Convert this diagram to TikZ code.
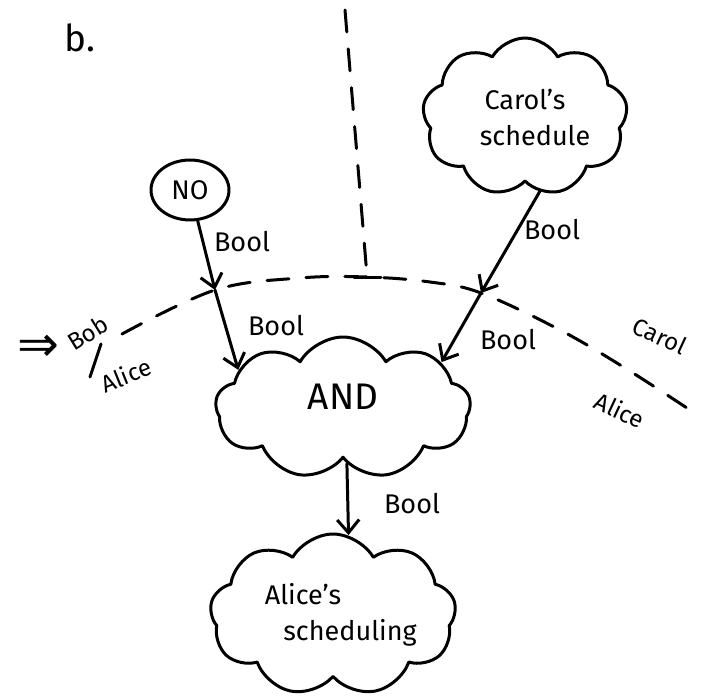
\documentclass[tikz,border=0pt]{standalone}
\usepackage{fontspec}
\setmainfont{Fira Sans}
\newfontfamily\symbolfont{DejaVu Sans}
\usetikzlibrary{shapes.symbols, shapes.geometric, arrows.meta}

\begin{document}
\begin{tikzpicture}[x=1pt, y=-1pt, line cap=round, line join=round,
  ink/.style={draw=black, line width=3pt},
  puff/.style={ink, cloud, cloud puffs=9, cloud puff arc=120,
    cloud ignores aspect, inner sep=0pt, align=center},
  hand/.style={font=\fontsize{27}{36}\selectfont},
  small/.style={font=\fontsize{24}{26}\selectfont, inner sep=1pt},
  big/.style={font=\fontsize{37}{40}\selectfont},
  flow/.style={ink, -{Straight Barb[length=13pt, width=22pt]}},
  fence/.style={ink, dash pattern=on 22pt off 17pt}
]
\useasboundingbox (0,0) rectangle (702,698);

% panel tag
\node[big] (tag) at (80,38) {b.};

% sources, gate and sink
\node[ink, ellipse, minimum width=78pt, minimum height=60pt, inner sep=0pt, hand] (no) at (190,190) {NO};
\node[puff, minimum width=205pt, minimum height=158pt, hand] (carol) at (525,117)
  {Carol's\\\hspace*{20pt}schedule};
\node[puff, minimum width=255pt, minimum height=142pt, big] (and) at (343,408)
  {\raisebox{22pt}{AND}};
\node[puff, minimum width=246pt, minimum height=162pt, hand] (alice) at (333,615)
  {Alice's\hspace*{60pt}\\\hspace*{34pt}scheduling};

% domain boundaries
\draw[fence] (345,10) -- (367,276);
\draw[ink] (354,277) -- (381,277);
\draw[fence] plot[smooth, tension=0.6] coordinates
  {(122,334) (215,290) (300,278) (367,277) (430,282) (481,293) (560,330) (625,368) (690,410)};

% crossings of the boundary
\coordinate (x1) at (215,290);
\coordinate (x2) at (481,293);

% left boundary marker
\node[font=\symbolfont\fontsize{50}{50}\selectfont, inner sep=0pt] (imp) at (38,348) {⇒};
\node[small, rotate=32] (bob) at (88,333) {Bob};
\coordinate (cutA) at (101,344);
\coordinate (cutB) at (90,377);
\draw[ink] (cutA) -- (cutB);
\node[small, rotate=22] (aliceL) at (126,375) {Alice};

% right boundary marker
\node[small, rotate=-25] (carolR) at (660,336) {Carol};
\node[small, rotate=-25] (aliceR) at (620,410) {Alice};

% data flow
\draw[flow] (no.-76) -- (x1);
\draw[flow] (x1) -- (and.160);
\draw[flow] (carol.-79) -- (x2);
\draw[flow] (x2) -- (and.25);
\draw[flow] (and.-86) -- (alice.79);

% edge labels
\node[hand] (l1) at (242,242) {Bool};
\node[hand] (l2) at (276,326) {Bool};
\node[hand] (l3) at (552,230) {Bool};
\node[hand] (l4) at (508,340) {Bool};
\node[hand] (l5) at (412,504) {Bool};
\end{tikzpicture}
\end{document}
